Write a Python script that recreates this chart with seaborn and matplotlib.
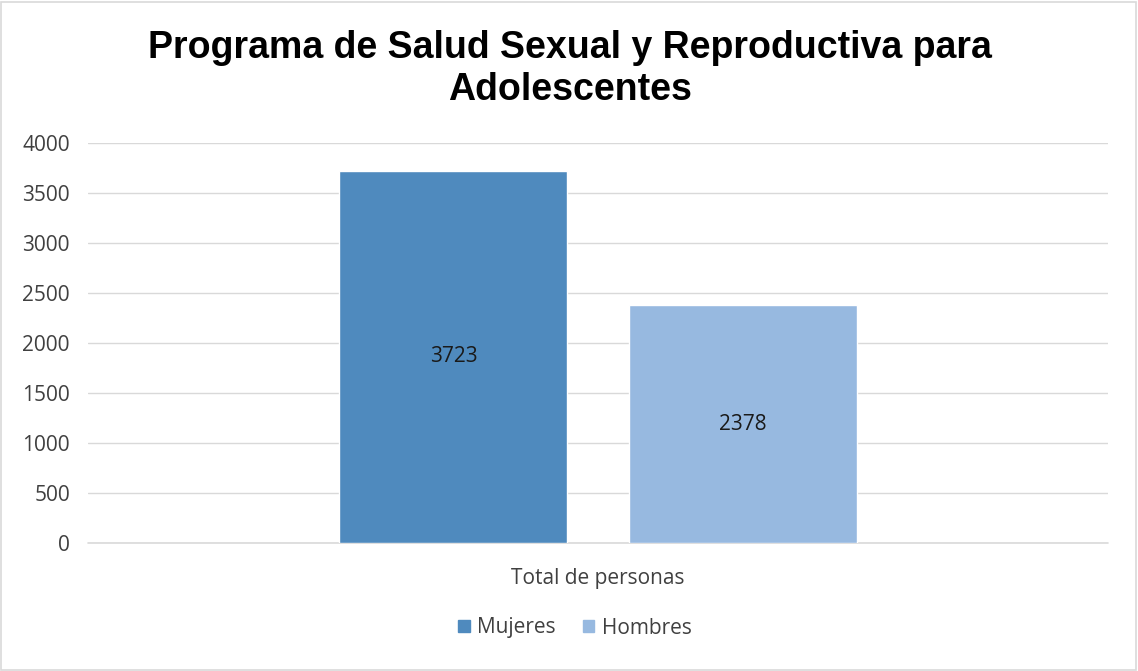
import matplotlib
matplotlib.use("Agg")
import matplotlib.pyplot as plt
import seaborn as sns
import pandas as pd
from matplotlib.patches import Rectangle

categories = ["Total de personas"]
series = ["Mujeres", "Hombres"]
values = [3723, 2378]
colors = ["#4F8ABE", "#97B9E0"]
yticks = [0, 500, 1000, 1500, 2000, 2500, 3000, 3500, 4000]

df = pd.DataFrame({"cat": categories * len(series), "serie": series, "val": values})

sns.set_theme(style="white")
plt.rcParams["font.family"] = ["Open Sans", "DejaVu Sans"]

W, H = 1138, 671
fig = plt.figure(figsize=(W / 100, H / 100), dpi=100)
ax = fig.add_axes([88 / W, (H - 543) / H, (1108 - 88) / W, 400 / H])

sns.barplot(data=df, x="cat", y="val", hue="serie", palette=colors, ax=ax,
            width=0.567, gap=0.211, saturation=1, legend=True, zorder=3)

for cont in ax.containers:
    ax.bar_label(cont, label_type="center", fontsize=15, color="#1a1a1a")

ax.set_xlim(-0.5, 0.5)
ax.set_ylim(0, 4000)
ax.set_yticks(yticks)
ax.set_yticklabels([str(t) for t in yticks], fontsize=15, color="#404040")
ax.tick_params(axis="x", labelsize=15, colors="#404040", length=0, pad=18)
ax.tick_params(axis="y", length=0, pad=13)
ax.yaxis.grid(True, color="#D9D9D9", linewidth=1)
ax.axhline(0, color="#D9D9D9", linewidth=1.2, clip_on=False, zorder=1)
ax.set_axisbelow(True)
for s in ax.spines.values():
    s.set_visible(False)
ax.set_xlabel("")
ax.set_ylabel("")

ax.legend_.remove()
handles = [Rectangle((0, 0), 1, 1, color=c) for c in colors]
fig.legend(handles, series, loc="center", bbox_to_anchor=(575 / W, (H - 628) / H),
           ncol=2, frameon=False, fontsize=15, handlelength=0.55, handleheight=0.55,
           handletextpad=0.35, columnspacing=1.3, labelcolor="#404040")

fig.text(570 / W, (H - 69) / H, "Programa de Salud Sexual y Reproductiva para\nAdolescentes",
         ha="center", va="center", fontsize=27, fontweight="bold",
         family=["Liberation Sans", "DejaVu Sans"], color="#000000", linespacing=1.2)

fig.patches.append(Rectangle((1 / W, 1 / H), (W - 3) / W, (H - 3) / H, transform=fig.transFigure,
                             fill=False, edgecolor="#D9D9D9", linewidth=1.2))

fig.savefig("out.png", dpi=100, facecolor="white")
